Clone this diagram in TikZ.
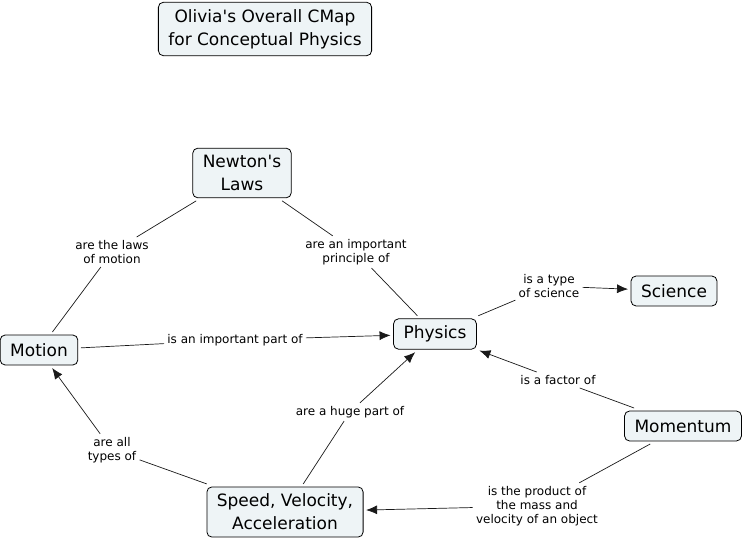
\documentclass[tikz,border=0pt]{standalone}
\usepackage{fontspec}
\setmainfont{DejaVu Sans}
\usepackage{tikz}
\usetikzlibrary{
  arrows.meta,
  chains,
  scopes
}
\definecolor{conceptfill}{RGB}{238,244,246}

\begin{document}
\begin{tikzpicture}[
      x=1pt,y=-1pt,
      concept/.style={
         rectangle,
         rounded corners=5pt,
         draw=black,
         line width=0.8pt,
         fill=conceptfill,
         inner xsep=10pt,
         inner ysep=7pt,
         minimum height=30pt,
         align=center,
         font=\fontsize{17}{23}\selectfont,
         outer sep=3pt
      },
      phrase/.style={
         fill=white,
         inner sep=3pt,
         align=center,
         font=\fontsize{12}{14}\selectfont
      },
      >={Latex[length=11pt,width=9pt]},line width=0.7pt,draw=black!90,
      tip/.style={->}
    ]
    \useasboundingbox (0,0) rectangle (744,540);
    % concepts
    \node (title) [concept] at (265,29) {Olivia\textquotesingle s Overall CMap\\for Conceptual Physics};
    \node (newton) [concept] at (242,173) {Newton\textquotesingle s\\Laws};
    \node (motion) [concept] at (39,350) {Motion};
    \node (physics) [concept] at (435,334) {Physics};
    \node (science) [concept] at (674,291) {Science};
    \node (momentum) [concept] at (683,426) {Momentum};
    \node (speed) [concept] at (285,512) {Speed, Velocity,\\Acceleration};
    % linking phrases
    \node (lawsof) [phrase] at (112,252) {are the laws\\of motion};
    \node (principleof) [phrase] at (356,252) {are an important\\principle of};
    \node (typeof) [phrase] at (549,286) {is a type\\of science};
    \node (partof) [phrase] at (235,340) {is an important part of};
    \node (factorof) [phrase] at (558,380) {is a factor of};
    \node (hugepart) [phrase] at (350,412) {are a huge part of};
    \node (alltypes) [phrase] at (112,450) {are all\\types of};
    \node (productof) [phrase] at (537,506) {is the product of\\the mass and\\velocity of an object};
  { [start chain]
       \chainin (newton);
       \chainin (lawsof)    [join];
       \chainin (motion)    [join];
  }
  { [start chain]
       \chainin (newton);
       \chainin (principleof)    [join];
       \chainin (physics)    [join];
  }
  { [start chain]
       \chainin (physics);
       \chainin (typeof)    [join];
       \chainin (science)    [join=by tip];
  }
  { [start chain]
       \chainin (motion);
       \chainin (partof)    [join];
       \chainin (physics)    [join=by tip];
  }
  { [start chain]
       \chainin (momentum);
       \chainin (factorof)    [join];
       \chainin (physics)    [join=by tip];
  }
  { [start chain]
       \chainin (speed);
       \chainin (hugepart)    [join];
       \chainin (physics)    [join=by tip];
  }
  { [start chain]
       \chainin (speed);
       \chainin (alltypes)    [join];
       \chainin (motion)    [join=by tip];
  }
  { [start chain]
       \chainin (momentum);
       \chainin (productof)    [join];
       \chainin (speed)    [join=by tip];
  }
\end{tikzpicture}
\end{document}
